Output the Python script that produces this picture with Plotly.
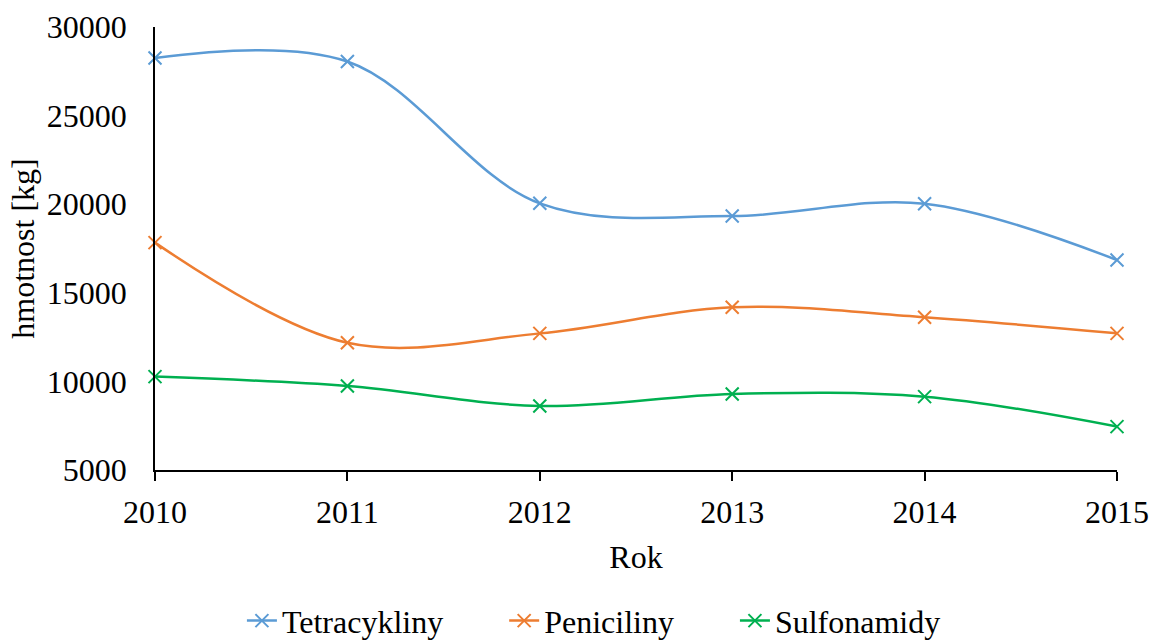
import plotly.graph_objects as go

years = [2010, 2011, 2012, 2013, 2014, 2015]
tetracykliny = [28250, 28050, 20050, 19330, 20030, 16850]
peniciliny = [17830, 12180, 12710, 14180, 13620, 12710]
sulfonamidy = [10270, 9740, 8610, 9290, 9140, 7450]
y_ticks = [5000, 10000, 15000, 20000, 25000, 30000]

series = [
    ("Tetracykliny", tetracykliny, "#5B9BD5"),
    ("Peniciliny", peniciliny, "#ED7D31"),
    ("Sulfonamidy", sulfonamidy, "#00B050"),
]

FONT = "Liberation Serif, Times New Roman, serif"
FS = 32
PAD = "\u00a0" * 7

fig = go.Figure()
for i, (name, vals, col) in enumerate(series):
    fig.add_trace(go.Scatter(
        x=years, y=vals, name=name + (PAD if i < len(series) - 1 else ""),
        mode="lines+markers",
        line=dict(color=col, width=2.5, shape="spline", smoothing=1.0),
        marker=dict(symbol="x-thin", size=13, color=col,
                    line=dict(color=col, width=2)),
        cliponaxis=False,
    ))

fig.update_layout(
    width=1152, height=644,
    paper_bgcolor="white", plot_bgcolor="white",
    margin=dict(l=155, r=35, t=27, b=174),
    font=dict(family=FONT, size=FS, color="black"),
    showlegend=True,
    legend=dict(orientation="h", xref="container", x=0.21, xanchor="left",
                yref="container", y=0.036, yanchor="middle",
                font=dict(size=FS), tracegroupgap=0),
    xaxis=dict(
        range=[2010, 2015], tickvals=years, ticktext=[str(y) for y in years],
        showgrid=False, zeroline=False, showline=True, linecolor="black",
        linewidth=1.5, ticks="outside", ticklen=9, tickcolor="black",
        tickwidth=1.5, ticklabelstandoff=4, automargin=False,
        ticklabeloverflow="allow",
        title=dict(text="Rok", font=dict(size=FS), standoff=16),
    ),
    yaxis=dict(
        range=[5000, 30000], tickvals=y_ticks, ticktext=[str(v) for v in y_ticks],
        showgrid=False, zeroline=False, showline=True, linecolor="black",
        linewidth=1.5, ticks="", ticklabelstandoff=20, automargin=False,
        title=dict(text="hmotnost [kg]", font=dict(size=FS), standoff=3),
    ),
)

fig.write_html(
    "out.html",
    config={"displayModeBar": False},
    post_script="document.body.style.margin='0';document.documentElement.style.overflow='hidden';",
)
